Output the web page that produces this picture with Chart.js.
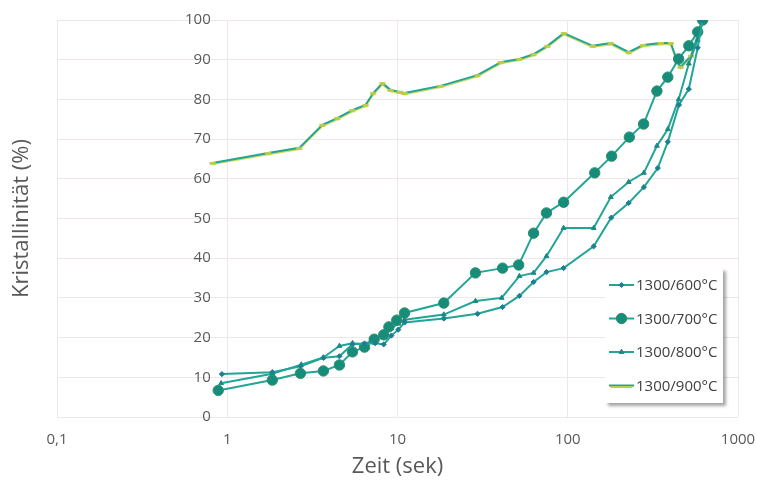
<!DOCTYPE html>
<html>
<head>
<meta charset="utf-8">
<script src="https://cdn.jsdelivr.net/npm/chart.js@4.4.1/dist/chart.umd.min.js"></script>
<style>
  html, body { margin: 0; padding: 0; background: #ffffff; }
  #wrap { width: 757px; height: 482px; position: relative; }
</style>
</head>
<body>
<div id="wrap"><canvas id="chart" width="757" height="482"></canvas></div>
<script>
// Zeit (sek) / Kristallinität (%) je Glühtemperatur
const seriesLabels = ['1300/600°C', '1300/700°C', '1300/800°C', '1300/900°C'];

const t600 = [0.93, 1.84, 2.7, 3.67, 4.56, 5.44, 6.4, 7.4, 8.3, 9.2, 10.1, 11, 18.7, 29.5, 41.4, 52, 63, 75, 94.5, 142, 180, 228, 280, 338, 387, 450, 514, 580, 620];
const k600 = [10.8, 11.3, 12.8, 14.9, 15.3, 18.3, 18.5, 18.6, 18.3, 20.5, 22, 23.8, 24.8, 26, 27.7, 30.5, 34, 36.5, 37.5, 43, 50.2, 53.9, 57.9, 62.7, 69.3, 78.6, 82.6, 93, 100];

const t700 = [0.885, 1.84, 2.69, 3.67, 4.56, 5.44, 6.4, 7.3, 8.3, 8.9, 9.9, 11, 18.7, 28.7, 41.4, 51.5, 63, 75, 94.6, 144, 181, 230, 279, 334, 387, 448, 514, 580, 620];
const k700 = [6.7, 9.3, 11, 11.6, 13.1, 16.4, 17.6, 19.6, 20.7, 22.7, 24.4, 26.2, 28.7, 36.3, 37.5, 38.3, 46.3, 51.4, 54.1, 61.5, 65.7, 70.5, 73.8, 82.1, 85.6, 90.2, 93.5, 97, 100];

const t800 = [0.92, 1.84, 2.72, 3.67, 4.56, 5.44, 6.4, 7.4, 8.3, 9.2, 10.1, 11, 18.7, 28.7, 40.9, 52, 63, 75, 94.5, 142, 179, 228, 280, 334, 387, 448, 514, 580, 620];
const k800 = [8.5, 10.9, 13.2, 15, 17.9, 18.6, 18.3, 19.8, 21, 22.3, 23.5, 24.5, 25.8, 29.2, 30, 35.5, 36.3, 40.5, 47.6, 47.6, 55.4, 59.2, 61.5, 68.3, 72.5, 80, 89, 95, 100];

const t900 = [0.82, 1.74, 2.65, 3.62, 4.43, 5.43, 6.49, 7.2, 8.16, 9.1, 10.3, 11, 17.9, 29.5, 40.4, 52, 63, 76, 94.8, 140, 179, 228, 277, 352, 403, 440, 460, 530, 620];
const k900 = [64, 66.5, 67.8, 73.6, 75.3, 77.3, 78.6, 81.6, 84.1, 82.4, 81.9, 81.6, 83.4, 86.1, 89.4, 90.2, 91.4, 93.5, 96.7, 93.5, 94.2, 91.9, 93.7, 94.2, 94.2, 89.5, 88.2, 91, 100];

const xTickValues = [0.1, 1, 10, 100, 1000];
const yTickStep = 10;
const yAxisCrossing = 0.8;

const pairs = (ts, ks) => ts.map((t, i) => ({ x: t, y: ks[i] }));

const FONT = '"Open Sans", "Noto Sans", sans-serif';
const TEXT = '#595959';
const GRID = '#efe7e7';
const TEAL = '#22a596';

const datasets = [
  {
    label: seriesLabels[0], data: pairs(t600, k600),
    borderColor: TEAL, borderWidth: 2,
    pointStyle: 'rectRot', pointRadius: 2.6,
    pointBackgroundColor: '#1c7f93', pointBorderColor: '#1c7f93', pointBorderWidth: 1
  },
  {
    label: seriesLabels[1], data: pairs(t700, k700),
    borderColor: TEAL, borderWidth: 2,
    pointStyle: 'circle', pointRadius: 5.2,
    pointBackgroundColor: '#168c7a', pointBorderColor: '#2f8f6a', pointBorderWidth: 1
  },
  {
    label: seriesLabels[2], data: pairs(t800, k800),
    borderColor: TEAL, borderWidth: 2,
    pointStyle: 'triangle', pointRadius: 2.8,
    pointBackgroundColor: '#1a8a85', pointBorderColor: '#1a8a85', pointBorderWidth: 1
  },
  {
    label: seriesLabels[3], data: pairs(t900, k900),
    borderColor: TEAL, borderWidth: 2,
    pointStyle: 'line', pointRadius: 3,
    pointBackgroundColor: '#bccd4a', pointBorderColor: '#bccd4a', pointBorderWidth: 2
  }
].map(d => Object.assign(d, { showLine: true, tension: 0, xAxisID: 'x', yAxisID: 'y' }));

// yellow-green fringe under the 900°C curve
const fringe = {
  id: 'fringe',
  beforeDatasetDraw(chart, args) {
    if (args.index !== 3) return;
    const ctx = chart.ctx;
    ctx.save();
    ctx.shadowColor = 'rgba(190,205,60,0.8)';
    ctx.shadowOffsetY = 1.2;
    ctx.shadowBlur = 0;
  },
  afterDatasetDraw(chart, args) {
    if (args.index !== 3) return;
    chart.ctx.restore();
  }
};

// framed legend inside the plot area
const boxLegend = {
  id: 'boxLegend',
  afterDraw(chart, args, o) {
    const ctx = chart.ctx;
    ctx.save();
    ctx.shadowColor = 'rgba(0,0,0,0.35)';
    ctx.shadowBlur = 3;
    ctx.shadowOffsetX = 3;
    ctx.shadowOffsetY = 3;
    ctx.fillStyle = '#ffffff';
    ctx.fillRect(o.left, o.top, o.width, o.height);
    ctx.restore();

    ctx.save();
    chart.data.datasets.forEach((ds, i) => {
      const y = o.top + o.firstRow + i * o.rowGap;
      const x0 = o.left + 4, x1 = o.left + 29;
      ctx.strokeStyle = ds.borderColor;
      ctx.lineWidth = 2;
      ctx.beginPath();
      ctx.moveTo(x0, y);
      ctx.lineTo(x1, y);
      ctx.stroke();
      ctx.fillStyle = ds.pointBackgroundColor;
      ctx.strokeStyle = ds.pointBorderColor;
      ctx.lineWidth = ds.pointBorderWidth;
      const r = ds.pointStyle === 'line' ? 11 : ds.pointRadius;
      if (Chart.helpers && Chart.helpers.drawPoint) {
        Chart.helpers.drawPoint(ctx, { pointStyle: ds.pointStyle, radius: r, borderWidth: ds.pointBorderWidth, rotation: 0 },
          (x0 + x1) / 2, ds.pointStyle === 'line' ? y + 1.5 : y);
      }
      ctx.fillStyle = '#404040';
      ctx.font = '15px ' + FONT;
      ctx.textAlign = 'left';
      ctx.textBaseline = 'middle';
      ctx.fillText(ds.label, x1 + 2, y + 1);
    });
    ctx.restore();
  }
};

new Chart(document.getElementById('chart'), {
  type: 'scatter',
  data: { datasets },
  plugins: [fringe, boxLegend],
  options: {
    responsive: false,
    animation: false,
    devicePixelRatio: 1,
    layout: { padding: { left: 0, right: 19, top: 20, bottom: 0 } },
    plugins: {
      legend: { display: false },
      tooltip: { enabled: false },
      boxLegend: { left: 605, top: 268, width: 118, height: 135, firstRow: 17, rowGap: 33.5 }
    },
    scales: {
      x: {
        type: 'logarithmic', min: 0.1, max: 1000,
        afterBuildTicks: s => { s.ticks = xTickValues.map(v => ({ value: v })); },
        ticks: {
          autoSkip: false, maxRotation: 0, padding: 14,
          callback: v => String(v).replace('.', ','),
          font: { family: FONT, size: 15 }, color: TEXT
        },
        grid: { color: GRID, lineWidth: 1, drawTicks: false },
        border: { display: false },
        title: {
          display: true, text: 'Zeit (sek)', color: TEXT,
          font: { family: FONT, size: 22 }, padding: { top: 2, bottom: 2 }
        },
        afterFit: s => { s.height = 65; s.paddingLeft = 0; s.paddingRight = 0; }
      },
      y: {
        type: 'linear', axis: 'y', min: 0, max: 100,
        position: { x: yAxisCrossing },
        ticks: { stepSize: yTickStep, padding: 3, font: { family: FONT, size: 15 }, color: TEXT },
        grid: { color: GRID, lineWidth: 1, drawTicks: false },
        border: { display: false }
      },
      yTitle: {
        type: 'linear', axis: 'y', position: 'left', min: 0, max: 100,
        ticks: { display: false },
        grid: { display: false, drawTicks: false },
        border: { display: false },
        title: {
          display: true, text: 'Kristallinität (%)', color: TEXT,
          font: { family: FONT, size: 22 }, padding: { top: 9, bottom: 0 }
        },
        afterFit: s => { s.width = 57; }
      }
    }
  }
});
</script>
</body>
</html>
